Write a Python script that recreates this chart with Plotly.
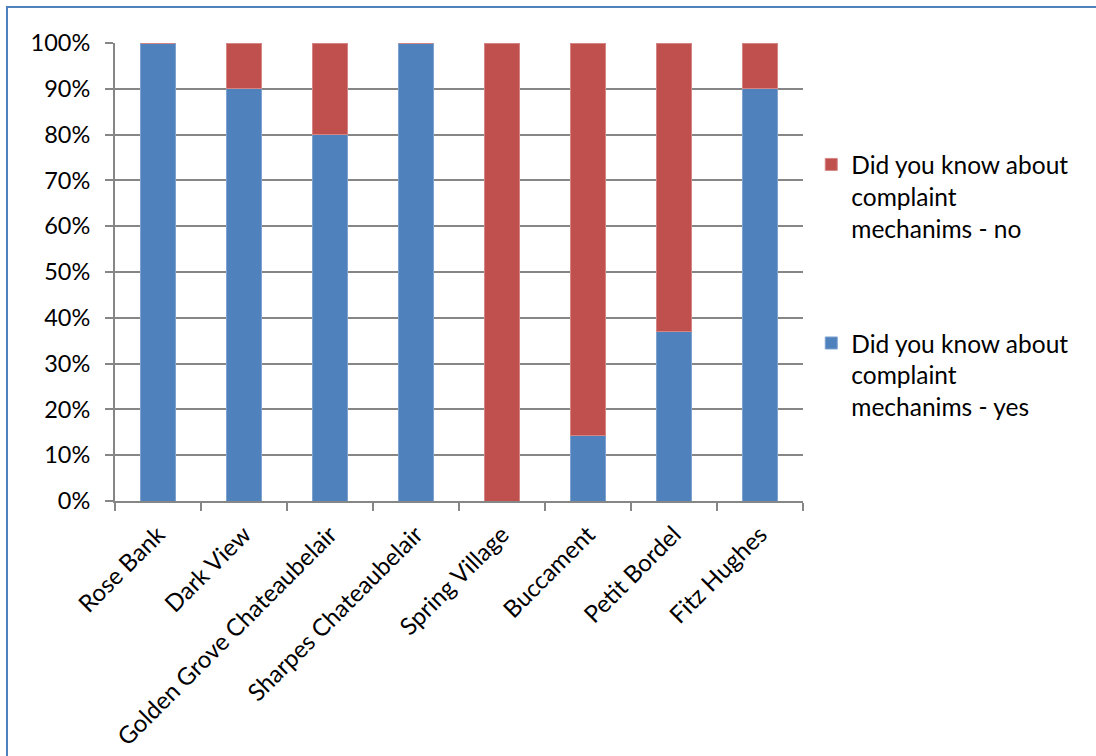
import plotly.graph_objects as go

# Survey results per community (share of respondents)
communities = ["Rose Bank", "Dark View", "Golden Grove Chateaubelair", "Sharpes Chateaubelair",
               "Spring Village", "Buccament", "Petit Bordel", "Fitz Hughes"]
knew_yes = [1.00, 0.90, 0.80, 1.00, 0.00, 0.143, 0.37, 0.90]
knew_no = [0.00, 0.10, 0.20, 0.00, 1.00, 0.857, 0.63, 0.10]

label_yes = "Did you know about<br>complaint<br>mechanims - yes"
label_no = "Did you know about<br>complaint<br>mechanims - no"

BLUE = "#4F81BD"
RED = "#C0504D"
GRID = "#868686"
FONT = "Lato, 'Open Sans', sans-serif"

fig = go.Figure()
fig.add_trace(go.Bar(x=communities, y=knew_yes, name=label_yes, legendgroup="yes", legendrank=2,
                     marker=dict(color=BLUE, line=dict(color="#7FA3D0", width=1))))
fig.add_trace(go.Bar(x=communities, y=knew_no, name=label_no, legendgroup="no", legendrank=1,
                     marker=dict(color=RED, line=dict(color="#D58583", width=1))))

# Plot area spans x 115..803 and y 43..501 in a 1096x756 page
L, R, T, B = 115, 803, 43, 501
W, H = R - L, B - T


def px_x(v):
    return (v - L) / W


def px_y(v):
    return (B - v) / H


fig.update_layout(
    barmode="stack",
    bargap=0.6,
    width=1096, height=756,
    margin=dict(l=L, r=1096 - R, t=T, b=756 - B, autoexpand=False),
    paper_bgcolor="white", plot_bgcolor="white",
    font=dict(family=FONT, size=24, color="#000000"),
    showlegend=True,
    legend=dict(x=1.012, y=px_y(142), xanchor="left", yanchor="top",
                traceorder="grouped", tracegroupgap=80, valign="top",
                font=dict(family=FONT, size=24.5, color="#000000"),
                itemwidth=30, bgcolor="rgba(0,0,0,0)"),
    xaxis=dict(showline=True, linecolor=GRID, linewidth=2, ticks="outside", tickson="boundaries",
               ticklen=8, tickcolor=GRID, tickwidth=2, tickangle=-45, showgrid=False,
               automargin=False, ticklabelstandoff=8, tickfont=dict(family=FONT, size=24)),
    yaxis=dict(range=[0, 1], dtick=0.1, tickformat=".0%", showline=True, linecolor=GRID,
               linewidth=2, ticks="outside", ticklen=8, tickcolor=GRID, tickwidth=2,
               showgrid=True, gridcolor=GRID, gridwidth=2, zeroline=False, automargin=False,
               ticklabelstandoff=10, tickfont=dict(family=FONT, size=23.5)),
    shapes=[dict(type="rect", xref="paper", yref="paper",
                 x0=px_x(7), x1=px_x(1110), y0=px_y(7), y1=px_y(770),
                 line=dict(color="#4F81BD", width=2), fillcolor="rgba(0,0,0,0)", layer="below")],
)

fig.write_html("out.html")
